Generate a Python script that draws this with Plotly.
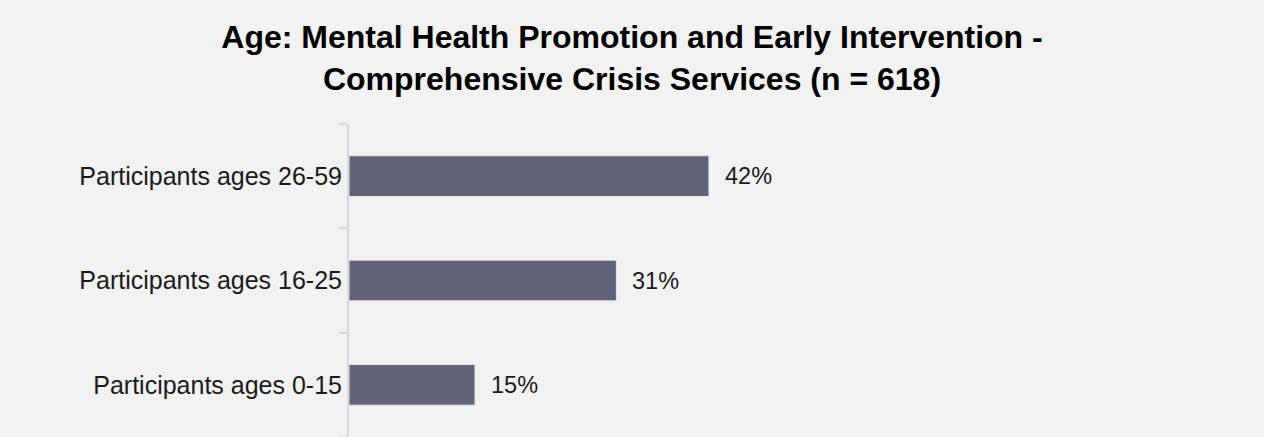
import plotly.graph_objects as go

# age groups, bottom to top
age_groups = ["Participants ages 0-15", "Participants ages 16-25", "Participants ages 26-59"]
shares = [0.147, 0.312, 0.42]
share_labels = ["15%", "31%", "42%"]

title_text = (
    "<b>Age: Mental Health Promotion and Early Intervention -<br>"
    "Comprehensive Crisis Services (n = 618)</b>"
)

BG = "#f2f2f2"
BAR = "#5f6377"
AXIS = "#d9d9d9"
FONT = "Liberation Sans, Arial, sans-serif"

fig = go.Figure(
    go.Bar(
        x=shares,
        y=age_groups,
        orientation="h",
        width=0.39,
        marker=dict(color=BAR, line=dict(color="#e6e6e6", width=1)),
        hoverinfo="skip",
    )
)

# value labels just past the end of each bar
for grp, val, lbl in zip(age_groups, shares, share_labels):
    fig.add_annotation(
        x=val, y=grp, text=lbl, showarrow=False,
        xanchor="left", xshift=14,
        font=dict(family=FONT, size=23.5, color="#1a1a1a"),
    )

fig.update_layout(
    width=1264,
    height=437,
    margin=dict(l=349, r=58, t=124, b=0),
    paper_bgcolor=BG,
    plot_bgcolor=BG,
    showlegend=False,
    title=dict(
        text=title_text,
        x=0.5,
        xanchor="center",
        y=0.89,
        yanchor="top",
        font=dict(family=FONT, size=32, color="#000000"),
    ),
    font=dict(family=FONT, size=25, color="#1a1a1a"),
    xaxis=dict(range=[0, 1], visible=False, fixedrange=True),
    yaxis=dict(
        range=[-0.5, 2.5],
        showline=True,
        linecolor=AXIS,
        linewidth=2,
        ticks="outside",
        tickson="boundaries",
        ticklen=8,
        tickcolor=AXIS,
        tickwidth=2,
        showgrid=False,
        zeroline=False,
        ticklabelstandoff=0,
        fixedrange=True,
    ),
)

fig.write_html(
    "out.html",
    config={"displayModeBar": False},
    post_script="document.body.style.margin='0';document.body.style.background='#f2f2f2';",
)
